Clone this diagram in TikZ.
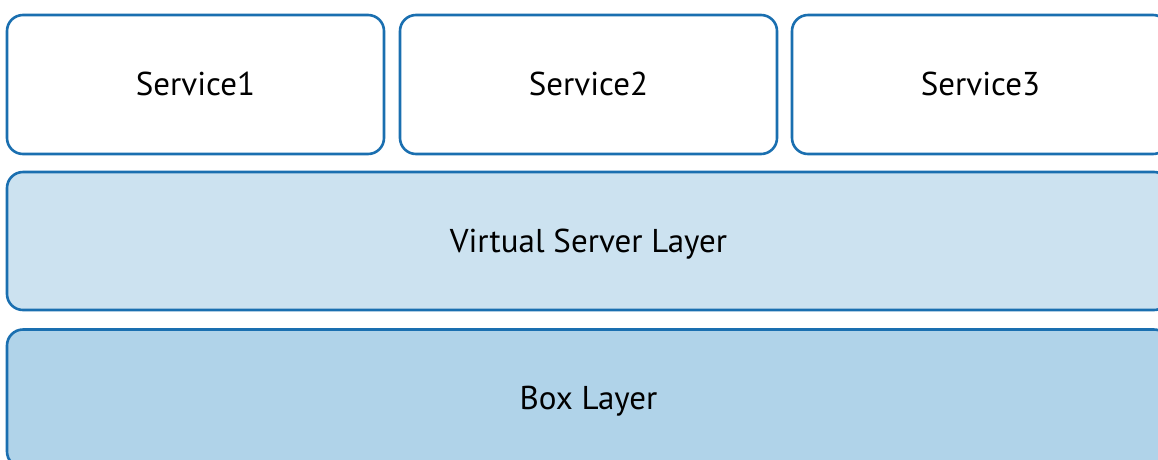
\documentclass[tikz,border=0pt]{standalone}
\usepackage{fontspec}
\setmainfont{PT Sans}
\usetikzlibrary{positioning}
\definecolor{edgeblue}{HTML}{1A6FB0}
\definecolor{vslayer}{HTML}{CCE2F0}
\definecolor{boxlayer}{HTML}{B0D3E9}
\begin{document}
\begin{tikzpicture}[x=1pt,y=1pt,
	layerbox/.style={draw=edgeblue, line width=2.6pt, rounded corners=16pt, inner sep=0pt,
		text height=24pt, text depth=2pt, font=\fontsize{33}{38}\selectfont},
	service/.style={layerbox, fill=white, minimum width=377pt, minimum height=139pt},
	widelayer/.style={layerbox, minimum width=1163pt, minimum height=138pt}]

				\useasboundingbox (0,0) rectangle (1158,-459);
				\clip (0,0) rectangle (1158,-459);

				% SERVICES

				\node[service] (s1) at (195.5,-84.5) {Service1};
				\node[service] (s2) at (588.5,-84.5) {Service2};
				\node[service] (s3) at (980.5,-84.5) {Service3};

				% LAYERS

				\node[widelayer, fill=vslayer] (vs) at (588.5,-241) {Virtual Server Layer};
				\node[widelayer, fill=boxlayer] (bl) at (588.5,-398.5) {Box Layer};
			\end{tikzpicture}
\end{document}
